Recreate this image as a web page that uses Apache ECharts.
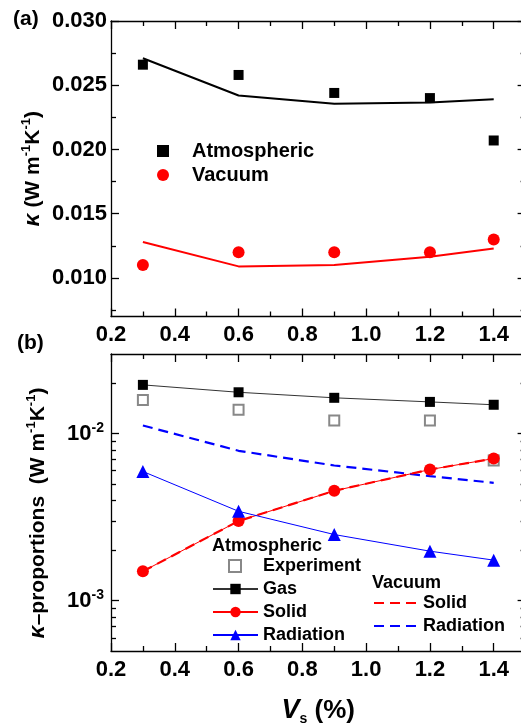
<!DOCTYPE html>
<html><head><meta charset="utf-8">
<script src="https://cdn.jsdelivr.net/npm/echarts@6/dist/echarts.min.js"></script>
<style>html,body{margin:0;padding:0;background:#fff}#c{width:521px;height:726px}</style>
</head><body><div id="c"></div>
<script>
// ---------- data ----------
const vs = [0.3, 0.6, 0.9, 1.2, 1.4];
// panel (a)
const atmExp   = [0.0266, 0.0258, 0.0244, 0.0240, 0.0207];
const atmModel = [0.0271, 0.0242, 0.02355, 0.02365, 0.0239];
const vacExp   = [0.0110, 0.0120, 0.0120, 0.0120, 0.0130];
const vacModel = [0.0128, 0.0109, 0.0110, 0.01165, 0.0123];
// panel (b)
const experiment   = [0.0159, 0.0139, 0.0120, 0.0120, 0.0069];
const gas          = [0.0196, 0.0177, 0.0164, 0.0155, 0.0149];
const solid        = [0.0015, 0.0030, 0.00455, 0.0061, 0.0071];
const radiation    = [0.00594, 0.00343, 0.00249, 0.00198, 0.00175];
const vacSolid     = [0.0015, 0.0030, 0.00455, 0.0061, 0.0071];
const vacRadiation = [0.0112, 0.0079, 0.00645, 0.00557, 0.00508];
// ticks
const xMajorTicks = [0.2, 0.4, 0.6, 0.8, 1.0, 1.2, 1.4];
const xMinorTicks = [0.3, 0.5, 0.7, 0.9, 1.1, 1.3];
const aMajorTicks = [0.010, 0.015, 0.020, 0.025, 0.030];
const aMinorTicks = [0.0075, 0.0125, 0.0175, 0.0225, 0.0275];
const bMajorTicks = [0.001, 0.01];
const bMinorTicks = [0.0006, 0.0007, 0.0008, 0.0009, 0.002, 0.003, 0.004, 0.005, 0.006, 0.007, 0.008, 0.009, 0.02];

// ---------- helpers ----------
const FONT = '"Liberation Sans", Arial, sans-serif';
const base = { fontFamily: FONT, fontWeight: 'bold', color: '#000' };
const pairs = arr => vs.map((x, i) => [x, arr[i]]);
const AX = { color: '#000', width: 1.3 };

function axisSet(kind, gridIndex, opts) {
  const isX = kind === 'x';
  const pos = isX ? ['bottom', 'top'] : ['left', 'right'];
  const common = Object.assign({ gridIndex, splitLine: { show: false } }, opts.scale);
  const main = Object.assign({}, common, {
    position: pos[0],
    axisLine: { show: true, onZero: false, lineStyle: AX },
    axisTick: { show: true, inside: true, length: 8, customValues: opts.major, lineStyle: AX },
    axisLabel: Object.assign({ show: true, customValues: opts.major, formatter: opts.fmt,
      margin: opts.margin, fontSize: 22 }, base, opts.label || {})
  }, opts.name || {});
  const mirror = Object.assign({}, common, {
    position: pos[1],
    axisLine: { show: true, onZero: false, lineStyle: AX },
    axisTick: { show: true, inside: true, length: 8, customValues: opts.major, lineStyle: AX },
    axisLabel: { show: false }
  });
  const minorA = Object.assign({}, common, {
    position: pos[0],
    axisLine: { show: false, onZero: false },
    axisTick: { show: true, inside: true, length: 5, customValues: opts.minor, lineStyle: AX },
    axisLabel: { show: false }
  });
  const minorB = Object.assign({}, minorA, { position: pos[1] });
  return [main, mirror, minorA, minorB];
}

const xScale = { type: 'value', min: 0.2, max: 1.5 };
const xA = axisSet('x', 0, { scale: xScale, major: xMajorTicks, minor: xMinorTicks,
  fmt: v => v.toFixed(1), margin: 7 });
const xB = axisSet('x', 1, { scale: xScale, major: xMajorTicks, minor: xMinorTicks,
  fmt: v => v.toFixed(1), margin: 8,
  name: {
    name: '{v|V}{s|s}{n| (%)}', nameLocation: 'middle', nameGap: 45, nameMoveOverlap: false,
    nameTextStyle: Object.assign({}, base, { fontSize: 26, lineHeight: 30,
      rich: {
        v: Object.assign({}, base, { fontSize: 27, fontStyle: 'italic', lineHeight: 30 }),
        s: Object.assign({}, base, { fontSize: 14, lineHeight: 30, verticalAlign: 'bottom' }),
        n: Object.assign({}, base, { fontSize: 26, lineHeight: 30 })
      } })
  } });

const supRich = (fs) => ({
  sup: Object.assign({}, base, { fontSize: fs, lineHeight: 26, verticalAlign: 'top' }),
  k: { fontFamily: FONT, fontStyle: 'italic', fontSize: 23, color: '#000', lineHeight: 26 }
});

const yA = axisSet('y', 0, { scale: { type: 'value', min: 0.007, max: 0.030 },
  major: aMajorTicks, minor: aMinorTicks, fmt: v => v.toFixed(3), margin: 4,
  name: {
    name: '{k|κ} (W m{sup|-1}K{sup|-1})', nameLocation: 'middle', nameRotate: 90, nameGap: 65,
    nameMoveOverlap: false,
    nameTextStyle: Object.assign({}, base, { fontSize: 21, lineHeight: 26, rich: supRich(13) })
  } });
const yB = axisSet('y', 1, { scale: { type: 'log', logBase: 10, min: 0.0005, max: 0.03 },
  major: bMajorTicks, minor: bMinorTicks, margin: 7,
  fmt: v => '10{sup|' + Math.round(Math.log10(v)) + '}',
  label: { lineHeight: 26, rich: { sup: Object.assign({}, base, { fontSize: 14, lineHeight: 26, verticalAlign: 'top' }) } },
  name: {
    name: '{k|κ}–proportions  (W m{sup|-1}K{sup|-1})', nameLocation: 'middle', nameRotate: 90, nameGap: 60,
    nameMoveOverlap: false,
    nameTextStyle: Object.assign({}, base, { fontSize: 21, lineHeight: 26, padding: [0, 21, 0, 0], rich: supRich(13) })
  } });

const option = {
  animation: false,
  backgroundColor: '#fff',
  grid: [
    { left: 111, top: 21, width: 414.6, height: 295.5, outerBoundsMode: 'none', containLabel: false },
    { left: 111, top: 354, width: 414.6, height: 297, outerBoundsMode: 'none', containLabel: false }
  ],
  xAxis: [...xA, ...xB],
  yAxis: [...yA, ...yB],
  title: [
    { text: '(a)', left: 13, top: 9, padding: 0, textStyle: Object.assign({}, base, { fontSize: 21 }) },
    { text: '(b)', left: 17, top: 333, padding: 0, textStyle: Object.assign({}, base, { fontSize: 21 }) },
    { text: 'Atmospheric', left: 212, top: 537, padding: 0, textStyle: Object.assign({}, base, { fontSize: 18 }) },
    { text: 'Vacuum', left: 372, top: 574, padding: 0, textStyle: Object.assign({}, base, { fontSize: 18 }) }
  ],
  legend: [
    { orient: 'vertical', left: 157, top: 141, padding: 0, itemWidth: 12, itemHeight: 12, itemGap: 4,
      selectedMode: false, data: ['Atmospheric', 'Vacuum'],
      textStyle: Object.assign({}, base, { fontSize: 20, padding: [0, 0, 0, 18] }) },
    { orient: 'vertical', left: 228, top: 557, padding: 0, itemWidth: 12, itemHeight: 12,
      selectedMode: false, data: ['Experiment'],
      textStyle: Object.assign({}, base, { fontSize: 18, padding: [0, 0, 0, 17] }) },
    { orient: 'vertical', left: 212, top: 580, padding: 0, itemWidth: 45, itemHeight: 13, itemGap: 5,
      selectedMode: false, data: ['Gas', 'Solid', 'Radiation'],
      textStyle: Object.assign({}, base, { fontSize: 18 }) },
    { orient: 'vertical', left: 373, top: 594, padding: 0, itemWidth: 44, itemHeight: 13, itemGap: 5,
      selectedMode: false,
      data: [{ name: 'Vacuum Solid', itemStyle: { opacity: 0 } }, { name: 'Vacuum Radiation', itemStyle: { opacity: 0 } }],
      formatter: n => n.replace('Vacuum ', ''),
      textStyle: Object.assign({}, base, { fontSize: 18 }) }
  ],
  series: [
    // panel (a)
    { name: 'Atmospheric model', type: 'line', xAxisIndex: 0, yAxisIndex: 0, data: pairs(atmModel),
      symbol: 'none', lineStyle: { color: '#000', width: 2 }, itemStyle: { color: '#000' } },
    { name: 'Vacuum model', type: 'line', xAxisIndex: 0, yAxisIndex: 0, data: pairs(vacModel),
      symbol: 'none', lineStyle: { color: '#ff0000', width: 2 }, itemStyle: { color: '#ff0000' } },
    { name: 'Atmospheric', type: 'scatter', xAxisIndex: 0, yAxisIndex: 0, data: pairs(atmExp),
      symbol: 'rect', symbolSize: 10, itemStyle: { color: '#000', opacity: 1 } },
    { name: 'Vacuum', type: 'scatter', xAxisIndex: 0, yAxisIndex: 0, data: pairs(vacExp),
      symbol: 'circle', symbolSize: 12, itemStyle: { color: '#ff0000', opacity: 1 } },
    // panel (b)
    { name: 'Experiment', type: 'scatter', xAxisIndex: 4, yAxisIndex: 4, data: pairs(experiment),
      symbol: 'emptyRect', symbolSize: 10, itemStyle: { color: '#888', borderColor: '#888', borderWidth: 1.4, opacity: 1 } },
    { name: 'Vacuum Radiation', type: 'line', xAxisIndex: 4, yAxisIndex: 4, data: pairs(vacRadiation),
      symbol: 'none', lineStyle: { color: '#0000ff', width: 2.2, type: [10, 6] }, itemStyle: { color: '#0000ff' } },
    { name: 'Gas', type: 'line', xAxisIndex: 4, yAxisIndex: 4, data: pairs(gas),
      symbol: 'rect', symbolSize: 10, lineStyle: { color: '#333', width: 1 }, itemStyle: { color: '#000' } },
    { name: 'Solid', type: 'line', xAxisIndex: 4, yAxisIndex: 4, data: pairs(solid),
      symbol: 'circle', symbolSize: 12, lineStyle: { color: '#ff0000', width: 1 }, itemStyle: { color: '#ff0000' } },
    { name: 'Vacuum Solid', type: 'line', xAxisIndex: 4, yAxisIndex: 4, data: pairs(vacSolid),
      symbol: 'none', lineStyle: { color: '#ff0000', width: 2.2, type: [10, 6] }, itemStyle: { color: '#ff0000' } },
    { name: 'Radiation', type: 'line', xAxisIndex: 4, yAxisIndex: 4, data: pairs(radiation),
      symbol: 'triangle', symbolSize: 13, lineStyle: { color: '#0000ff', width: 1 }, itemStyle: { color: '#0000ff' } }
  ]
};
const chart = echarts.init(document.getElementById('c'), null, { renderer: 'canvas' });
chart.setOption(option);
</script>
</body></html>
